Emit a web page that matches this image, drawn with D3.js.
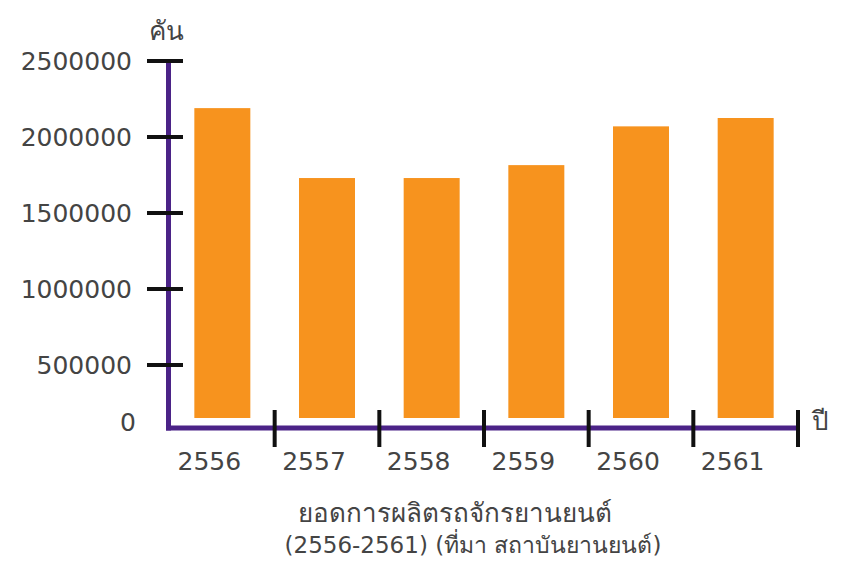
<!DOCTYPE html>
<html>
<head>
<meta charset="utf-8">
<script src="https://cdn.jsdelivr.net/npm/d3@7"></script>
<style>
  html, body { margin: 0; padding: 0; background: #fff; }
  svg { display: block; }
  text { font-family: "DejaVu Sans", "Noto Sans", sans-serif; fill: #444; }
</style>
</head>
<body>
<svg id="chart" width="846" height="563"></svg>
<script>
// ---- data ----
const years = ["2556", "2557", "2558", "2559", "2560", "2561"];
const production = [2190000, 1730000, 1730000, 1815000, 2070000, 2125000];
const yTickValues = [500000, 1000000, 1500000, 2000000, 2500000];
const yUnitLabel = "คัน";
const xUnitLabel = "ปี";
const titleLines = ["ยอดการผลิตรถจักรยานยนต์", "(2556-2561) (ที่มา สถาบันยานยนต์)"];

// ---- layout ----
const svg = d3.select("#chart");
const axisY = 428;      // x-axis line position
const barBase = 418;    // bars start slightly above the axis line
const purple = "#4b2387";
const orange = "#f7931e";

const x = d3.scaleBand().domain(years).range([170, 798]).padding(0);
const y = d3.scaleLinear().domain([0, 2500000]).range([441, 61]);
const barW = x.bandwidth() * 0.535;

// bars
svg.append("g").selectAll("rect")
  .data(years.map((yr, i) => ({ yr, v: production[i] })))
  .join("rect")
  .attr("x", d => x(d.yr) + x.bandwidth() / 2 - barW / 2)
  .attr("y", d => y(d.v))
  .attr("width", barW)
  .attr("height", d => barBase - y(d.v))
  .attr("fill", orange);

// axis lines
svg.append("line")
  .attr("x1", 168.5).attr("x2", 168.5)
  .attr("y1", y(2500000) - 2).attr("y2", axisY + 2.5)
  .attr("stroke", purple).attr("stroke-width", 5);
svg.append("line")
  .attr("x1", 166).attr("x2", x.range()[1])
  .attr("y1", axisY).attr("y2", axisY)
  .attr("stroke", purple).attr("stroke-width", 5);

// y ticks
const yt = svg.append("g");
yt.selectAll("line").data(yTickValues).join("line")
  .attr("x1", 147).attr("x2", 183)
  .attr("y1", d => y(d)).attr("y2", d => y(d))
  .attr("stroke", "#111").attr("stroke-width", 4);
yt.selectAll("text").data(yTickValues).join("text")
  .attr("x", 132).attr("y", d => y(d))
  .attr("dy", "0.36em")
  .attr("text-anchor", "end")
  .attr("font-size", 25)
  .text(d => d3.format("d")(d));
svg.append("text")
  .attr("x", 136).attr("y", 431)
  .attr("text-anchor", "end").attr("font-size", 25)
  .text("0");

// x separators
const seps = years.map(yr => x(yr) + x.bandwidth());
svg.append("g").selectAll("line").data(seps).join("line")
  .attr("x1", d => d).attr("x2", d => d)
  .attr("y1", 410).attr("y2", 447)
  .attr("stroke", "#111").attr("stroke-width", 4);

// x labels
svg.append("g").selectAll("text").data(years).join("text")
  .attr("x", d => x(d) + x.bandwidth() / 2 - 13)
  .attr("y", 470)
  .attr("text-anchor", "middle")
  .attr("font-size", 25)
  .text(d => d);

// unit labels
svg.append("text").attr("x", 166).attr("y", 40)
  .attr("text-anchor", "middle").attr("font-size", 26).text(yUnitLabel);
svg.append("text").attr("x", 820).attr("y", 430)
  .attr("text-anchor", "middle").attr("font-size", 26).text(xUnitLabel);

// title
svg.append("text").attr("x", 455).attr("y", 522)
  .attr("text-anchor", "middle").attr("font-size", 26).text(titleLines[0]);
svg.append("text").attr("x", 473).attr("y", 553)
  .attr("text-anchor", "middle").attr("font-size", 23).text(titleLines[1]);
</script>
</body>
</html>
